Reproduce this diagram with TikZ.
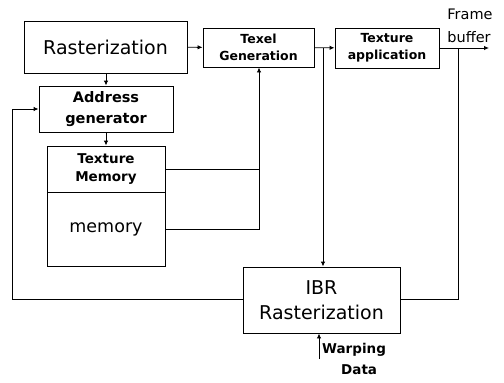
\documentclass[tikz,border=0pt]{standalone}
\usepackage{fontspec}
\setmainfont{DejaVu Sans}
\usetikzlibrary{positioning,arrows.meta}
\tikzset{
  block/.style={draw, rectangle, line width=0.9pt, inner sep=1pt, align=center},
  bigtext/.style={font=\fontsize{19}{25}\selectfont},
  midtext/.style={font=\bfseries\fontsize{14.5}{21}\selectfont},
  smalltext/.style={font=\bfseries\fontsize{12.5}{17}\selectfont},
  note/.style={align=left, inner sep=0pt, font=\fontsize{14}{21}\selectfont},
  line/.style={-{Latex[length=5pt,width=4.5pt]}, line width=0.9pt},
  wire/.style={line width=0.9pt}
}

\begin{document}
\begin{tikzpicture}[x=1pt, y=-1pt]
    \useasboundingbox (0,0) rectangle (504,383);

    \node[block, bigtext, minimum width=163pt, minimum height=52pt] (raster) at (105.5,47) {Rasterization};
    \node[block, smalltext, minimum width=111pt, minimum height=39pt] (texelgen) at (258.5,47.5) {Texel\\Generation};
    \node[block, smalltext, minimum width=104pt, minimum height=40pt] (texapp) at (387,48) {Texture\\application};
    \node[note, align=left, font=\fontsize{14.5}{23}\selectfont] (frame) at (470,26) {Frame\\buffer};

    \node[block, midtext, minimum width=134pt, minimum height=46pt] (addrgen) at (106,109) {Address\\generator};
    \node[block, font=\bfseries\fontsize{13.5}{18.5}\selectfont, minimum width=118pt, minimum height=46pt] (texmem) at (106,169) {Texture\\Memory};
    \node[block, font=\fontsize{17.5}{21}\selectfont, minimum width=118pt, minimum height=74pt] (memory) at (106,229) {memory};

    \node[block, bigtext, minimum width=157pt, minimum height=66pt] (ibr) at (321.5,300) {IBR\\Rasterization};
    \node[note, font=\bfseries\fontsize{13.5}{21}\selectfont, anchor=north west] (warp) at (322,343) {Warping\\\hspace*{19pt}Data};

    \coordinate (fbout) at (489,48);
    \coordinate (texbranch) at (323,48);
    \coordinate (fbbranch) at (458,48);
    \coordinate (memjoin) at (259,229);
    \coordinate (backleft) at (12,299);
    \coordinate (warpin) at (319,359);

    % main path
    \draw[line] (raster) -- (texelgen);
    \draw[line] (texelgen) -- (texapp);
    \draw[line] (texapp.east |- fbout) -- (fbout);
    \draw[line] (raster.south -| addrgen) -- (addrgen);
    \draw[line] (addrgen) -- (texmem);

    % texture memory to texel generation
    \draw[wire] (texmem.east) -- (texmem.east -| memjoin);
    \draw[line] (memory.east) -- (memjoin) -- (memjoin |- texelgen.south);

    % IBR branch
    \draw[line] (texbranch) -- (texbranch |- ibr.north);
    \draw[wire] (ibr.east |- backleft) -- (fbbranch |- backleft) -- (fbbranch);
    \draw[line] (ibr.west |- backleft) -- (backleft) |- (addrgen.west);
    \draw[line] (warpin) -- (warpin |- ibr.south);
\end{tikzpicture}
\end{document}
